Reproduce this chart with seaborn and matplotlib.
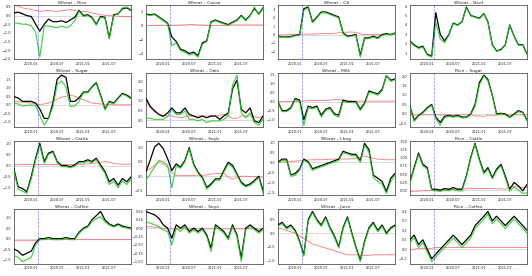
import numpy as np
import pandas as pd
import matplotlib
matplotlib.use("Agg")
import matplotlib.pyplot as plt
import matplotlib.dates as mdates
import seaborn as sns

# ---------------------------------------------------------------------------
# DATA (monthly readings, 2019-09 .. 2021-12)
# ---------------------------------------------------------------------------
dates = pd.date_range("2019-09-01", periods=28, freq="MS")
shock_date = pd.Timestamp("2020-02-15")

titles = ["Wheat – Rice", "Wheat – Cocoa", "Wheat – Oil", "Wheat – Beef",
          "Wheat – Sugar", "Wheat – Oats", "Wheat – Milk", "Rice – Sugar",
          "Wheat – Cattle", "Wheat – Soyb", "Wheat – Lhog", "Rice – Cattle",
          "Wheat – Coffee", "Wheat – Soyo", "Wheat – Juice", "Rice – Coffee"]

rice_b = [0.15, 0.2, 0.1, 0.0, -0.05, -0.5, -0.9, -0.5, -0.2, -0.35, -0.35, -0.3, -0.4, -0.25,
          -0.1, 0.3, 0.0, 0.05, -0.1, -0.5, -0.05, -0.1, -1.3, 0.05, 0.1, 0.4, 0.45, 0.3]
rice_g = [-0.4, -0.45, -0.5, -0.5, -0.6, -0.95, -2.4, -0.6, -0.6, -0.65, -0.7, -0.6, -0.7, -0.6,
          -0.3, 0.25, -0.05, 0.0, -0.15, -0.55, -0.1, -0.15, -1.35, 0.0, 0.1, 0.45, 0.5, 0.35]
rice_r = [0.62, 0.55, 0.45, 0.4, 0.35, 0.3, 0.25, 0.28, 0.3, 0.25, 0.25, 0.28, 0.3, 0.35,
          0.3, 0.25, 0.25, 0.22, 0.15, 0.1, 0.05, 0.02, 0.0, -0.02, -0.03, -0.05, -0.05, -0.05]

cocoa_b = [1.6, 1.5, 1.6, 1.2, 0.75, 0.3, -1.65, -2.3, -3.4, -3.6, -4.0, -3.8, -4.3, -2.5,
           -2.2, 0.5, 0.75, 0.5, 0.3, 0.1, 0.45, 0.75, 1.4, 0.75, 1.4, 2.4, 1.6, 2.5]
cocoa_g = [1.5, 1.4, 1.5, 1.1, 0.65, 0.2, -2.9, -2.5, -3.6, -3.8, -4.2, -4.0, -4.5, -2.7,
           -2.3, 0.4, 0.65, 0.4, 0.2, 0.0, 0.35, 0.65, 1.3, 0.65, 1.3, 2.6, 1.5, 2.4]
cocoa_r = [-0.05, -0.05, 0.0, 0.0, 0.0, 0.0, 0.0, 0.0, 0.05, 0.05, 0.15, 0.1, 0.05, 0.05,
           0.0, 0.0, 0.0, 0.0, 0.0, 0.05, 0.05, 0.05, 0.05, 0.05, 0.05, 0.05, 0.05, 0.05]

oil_b = [-0.2, -0.3, -0.3, -0.25, -0.1, 0.0, 3.1, 3.3, 1.5, 2.1, 2.7, 2.7, 2.5, 2.3,
         2.1, 0.2, -0.2, -0.1, 0.0, -2.5, -0.4, -0.4, -0.2, -0.4, 0.0, 0.1, 0.0, 0.2]
oil_g = [-0.25, -0.35, -0.35, -0.3, -0.15, -0.05, 2.9, 3.2, 1.4, 2.0, 2.6, 2.6, 2.4, 2.2,
         2.0, 0.1, -0.3, -0.2, -0.1, -2.7, -0.5, -0.5, -0.3, -0.5, -0.1, 0.0, -0.05, 0.15]
oil_r = [-0.05, -0.05, -0.05, 0.0, 0.0, 0.0, 0.05, 0.05, 0.05, 0.08, 0.1, 0.1, 0.12, 0.15,
         0.2, 0.25, 0.28, 0.3, 0.25, 0.05, 0.0, 0.0, 0.0, 0.0, 0.0, 0.0, 0.0, 0.0]

beef_b = [2.3, 1.9, 1.6, 1.75, 0.9, 0.7, 5.3, 3.0, 2.3, 3.0, 4.2, 4.0, 4.35, 5.9,
          5.0, 4.85, 4.7, 5.2, 4.35, 1.9, 1.25, 1.4, 1.9, 4.0, 2.8, 1.9, 1.9, 0.9]
beef_g = [2.2, 1.8, 1.5, 1.65, 0.8, 0.6, 4.3, 2.5, 2.1, 2.9, 4.15, 3.95, 4.3, 5.85,
          4.95, 4.8, 4.65, 5.15, 4.3, 1.85, 1.2, 1.35, 1.85, 3.95, 2.75, 1.85, 1.85, 0.85]
beef_r = [0.1, 0.1, 0.1, 0.1, 0.1, 0.1, 0.35, 0.15, 0.3, 0.1, 0.1, 0.08, 0.08, 0.08,
          0.08, 0.08, 0.08, 0.08, 0.08, 0.08, 0.08, 0.08, 0.08, 0.08, 0.08, 0.08, 0.08, 0.08]

sugar_b = [0.48, 0.4, 0.2, 0.2, 0.2, 0.1, -0.25, -0.8, -0.8, 0.1, 1.5, 1.74, 1.6, 0.2,
           0.2, 0.4, 0.75, 0.75, 1.05, 1.3, 0.57, -0.25, 0.2, 0.1, 0.4, 0.67, 0.57, 0.4]
sugar_g = [0.1, 0.05, -0.07, -0.05, 0.0, -0.05, -0.63, -1.2, -0.8, -0.1, 1.2, 1.4, 1.04, -0.1,
           -0.07, 0.2, 0.7, 0.7, 1.0, 1.25, 0.5, -0.3, 0.15, 0.05, 0.35, 0.62, 0.5, 0.35]
sugar_r = [0.2, 0.18, 0.15, 0.12, 0.1, 0.05, 0.02, 0.05, 0.1, 0.2, 0.33, 0.45, 0.5, 0.57,
           0.5, 0.4, 0.3, 0.2, 0.1, 0.08, 0.05, 0.03, 0.02, 0.0, 0.0, 0.0, 0.0, 0.0]

oats_b = [1.13, 0.72, 0.47, 0.3, 0.2, 0.38, 0.63, 0.38, 0.38, 0.63, 0.3, 0.22, 0.13, 0.22,
          0.13, 0.22, 0.22, 0.05, 0.22, 0.38, 1.6, 2.05, 0.55, 0.38, 0.63, -0.03, -0.12, 0.22]
oats_g = [0.13, 0.1, 0.05, 0.05, 0.05, 0.2, 0.55, 0.3, 0.3, 0.47, 0.05, 0.05, -0.03, 0.05,
          -0.12, -0.03, -0.03, -0.03, 0.05, 0.22, 1.8, 2.3, 0.38, 0.13, 0.38, -0.12, -0.25, 0.05]
oats_r = [1.05, 0.63, 0.55, 0.3, 0.25, 0.22, 0.22, 0.18, 0.13, 0.18, 0.22, 0.22, 0.22, 0.22,
          0.22, 0.22, 0.22, 0.25, 0.3, 0.22, 0.1, 0.1, 0.22, 0.22, 0.22, 0.18, 0.13, 0.22]

milk_b = [0.0, -0.5, -0.5, -0.33, 0.17, 0.08, -1.0, -0.25, -0.33, -0.25, -0.75, -0.42, -0.33, -0.67,
          -0.75, 0.08, 0.0, 0.0, 0.0, -0.42, -0.08, 0.58, 0.5, 0.42, 0.67, 1.42, 1.17, 1.25]
milk_g = [-0.05, -0.55, -0.55, -0.4, 0.1, 0.0, -1.3, -0.35, -0.4, -0.32, -0.85, -0.5, -0.4, -0.75,
          -0.85, 0.0, -0.05, -0.05, -0.05, -0.5, -0.15, 0.5, 0.45, 0.35, 0.6, 1.45, 1.1, 1.2]
milk_r = [0.0, 0.0, 0.0, 0.0, 0.0, 0.02, 0.03, 0.05, 0.05, 0.05, 0.05, 0.06, 0.08, 0.1,
          0.12, 0.08, 0.05, 0.03, 0.02, 0.02, 0.02, 0.02, 0.02, 0.02, 0.02, 0.02, 0.02, 0.02]

rsugar_b = [0.42, -0.33, -0.08, 0.08, 0.33, 0.5, -0.17, -0.45, -0.13, -0.08, -0.13, -0.08, -0.17, -0.17,
            0.0, 0.5, 1.67, 2.05, 1.83, 1.0, 0.0, 0.03, 0.0, -0.17, 0.0, 0.17, 0.08, -0.33]
rsugar_g = [0.35, -0.4, -0.12, 0.03, 0.28, 0.45, -0.25, -0.6, -0.2, -0.12, -0.18, -0.12, -0.22, -0.2,
            -0.05, 0.4, 1.55, 2.0, 1.75, 0.95, -0.05, 0.0, -0.05, -0.2, -0.05, 0.12, 0.05, -0.4]
rsugar_r = [-0.05, -0.05, -0.05, -0.05, -0.05, -0.05, -0.05, -0.05, -0.05, -0.05, -0.05, -0.05, -0.05, -0.05,
            -0.05, -0.12, -0.1, -0.15, -0.05, -0.1, -0.05, -0.05, -0.05, -0.05, -0.05, -0.05, -0.05, -0.05]

cattle_b = [-0.12, -0.95, -1.03, -1.18, -0.5, 0.33, 1.0, 0.18, 0.56, 0.64, 0.18, 0.0, 0.0, -0.05,
            0.03, 0.18, 0.18, 0.26, 0.18, 0.33, 0.03, -0.27, -0.73, -0.58, -0.88, -0.58, -0.73, -0.5]
cattle_g = [-0.2, -1.05, -1.15, -1.25, -0.6, 0.25, 0.9, 0.1, 0.5, 0.58, 0.12, -0.05, -0.05, -0.1,
            -0.02, 0.12, 0.12, 0.2, 0.12, 0.27, -0.05, -0.35, -0.85, -0.7, -1.0, -0.7, -0.85, -0.6]
cattle_r = [0.06, 0.03, 0.05, 0.05, 0.05, 0.05, 0.05, 0.05, 0.05, 0.05, 0.04, 0.04, 0.04, 0.05,
            0.05, 0.06, 0.06, 0.08, 0.1, 0.12, 0.15, 0.18, 0.16, 0.1, 0.07, 0.06, 0.06, 0.06]

soyb_b = [0.14, 0.55, 1.02, 1.15, 0.96, 0.61, 0.2, 0.43, 0.32, 0.55, 1.0, 0.43, 0.14, -0.04,
          -0.39, -0.27, -0.09, -0.09, 0.2, 0.49, 0.38, 0.08, -0.21, -0.33, -0.27, -0.15, 0.0, -0.5]
soyb_g = [-0.15, 0.08, 0.32, 0.55, 0.5, 0.38, -0.4, 0.35, 0.28, 0.5, 0.95, 0.38, 0.1, -0.08,
          -0.45, -0.32, -0.14, -0.14, 0.15, 0.42, 0.32, 0.03, -0.26, -0.38, -0.32, -0.2, -0.05, -0.6]
soyb_r = [0.2, 0.26, 0.38, 0.49, 0.43, 0.32, 0.14, 0.02, 0.02, 0.02, 0.02, 0.02, 0.02, 0.03,
          0.05, 0.08, 0.09, 0.1, 0.1, -0.04, -0.1, -0.04, 0.0, 0.0, -0.01, -0.01, -0.02, -0.04]

lhog_b = [0.0, 0.16, 0.16, -0.63, -0.55, -0.32, 0.16, 0.03, -0.32, -0.24, -0.16, -0.08, 0.0, 0.08,
          0.16, 0.55, 0.47, 0.4, 0.4, 0.08, 0.95, 0.63, -0.63, -0.79, -0.95, -1.46, -0.79, -0.55]
lhog_g = [-0.05, 0.1, 0.1, -0.7, -0.65, -0.4, 0.1, -0.02, -0.4, -0.3, -0.22, -0.14, -0.06, 0.02,
          0.1, 0.48, 0.42, 0.33, 0.33, 0.0, 0.85, 0.5, -0.75, -0.95, -1.1, -1.55, -0.95, -0.65]
lhog_r = [0.0, 0.02, 0.03, 0.05, 0.06, 0.08, 0.1, 0.12, 0.13, 0.13, 0.13, 0.14, 0.16, 0.16,
          0.17, 0.16, 0.17, 0.18, 0.19, 0.25, 0.32, 0.25, 0.2, 0.16, 0.14, 0.13, 0.13, 0.13]

rcattle_b = [0.24, 0.7, 1.15, 0.8, 0.7, 0.03, 0.03, 0.0, 0.05, 0.03, 0.08, 0.03, 0.03, 0.44,
             1.02, 1.45, 0.95, 0.55, 0.7, 0.39, 0.65, 0.8, 0.44, 0.03, 0.24, 0.13, -0.02, 0.18]
rcattle_g = [0.2, 0.65, 1.1, 0.75, 0.65, 0.0, -0.02, -0.04, 0.0, -0.02, 0.03, -0.02, -0.02, 0.4,
             0.98, 1.42, 0.9, 0.5, 0.65, 0.35, 0.6, 0.75, 0.38, -0.03, 0.1, 0.0, -0.1, -0.08]
rcattle_r = [-0.05, -0.03, -0.03, -0.02, -0.02, 0.0, 0.0, 0.0, 0.02, 0.02, 0.02, 0.03, 0.03, 0.04,
             0.05, 0.05, 0.05, 0.05, 0.05, 0.05, 0.04, 0.04, 0.03, 0.08, 0.13, 0.1, 0.08, 0.08]

coffee_b = [-0.5, -0.6, -0.8, -0.7, -0.6, -0.2, 0.0, 0.0, 0.05, 0.0, 0.0, 0.0, 0.05, 0.0,
            0.0, 0.3, 0.5, 0.6, 0.9, 1.1, 1.3, 0.9, 0.7, 0.6, 0.7, 0.6, 0.55, 0.5]
coffee_g = [-0.8, -0.9, -1.1, -1.0, -0.9, -0.3, -0.05, -0.05, 0.0, -0.05, -0.05, -0.05, 0.0, -0.05,
            -0.05, 0.25, 0.45, 0.55, 0.8, 0.95, 1.05, 0.8, 0.65, 0.55, 0.65, 0.55, 0.5, 0.45]
coffee_r = [-0.1, -0.1, -0.1, -0.1, -0.1, -0.08, -0.05, -0.05, -0.05, -0.05, -0.05, -0.05, -0.05, -0.05,
            -0.05, -0.05, -0.05, -0.05, -0.05, -0.05, -0.05, -0.05, -0.05, -0.05, -0.05, -0.05, -0.05, -0.05]

soyo_b = [0.5, 0.45, 0.4, 0.3, 0.1, 0.0, -0.3, 0.1, 0.0, 0.1, -0.1, 0.0, -0.1, 0.0,
          -0.2, -0.6, 0.1, 0.0, -0.1, -0.3, 0.1, -0.2, -0.9, 0.0, 0.1, 0.0, -0.1, 0.0]
soyo_g = [0.2, 0.15, 0.1, 0.05, -0.05, -0.1, -0.5, 0.0, -0.1, 0.05, -0.15, -0.05, -0.15, -0.05,
          -0.25, -0.7, 0.05, -0.05, -0.15, -0.35, 0.05, -0.25, -1.0, -0.05, 0.05, -0.05, -0.15, -0.05]
soyo_r = [0.05, 0.05, 0.03, 0.02, 0.0, -0.02, -0.02, -0.02, -0.02, -0.02, -0.02, -0.02, -0.02, -0.02,
          -0.02, -0.02, -0.02, -0.02, -0.02, -0.02, -0.02, -0.02, -0.02, -0.02, -0.02, -0.02, -0.02, -0.02]

juice_b = [0.3, 0.4, 0.2, 0.3, 0.1, -0.3, -0.8, 0.5, 0.8, 0.5, 0.3, 0.6, 0.2, -0.1,
           -0.5, 0.2, 0.6, 0.0, -0.5, -1.0, -0.3, 0.2, 0.4, 0.1, 0.3, 0.0, 0.2, 0.3]
juice_g = [0.25, 0.35, 0.15, 0.25, 0.05, -0.35, -0.85, 0.45, 0.75, 0.45, 0.25, 0.55, 0.15, -0.15,
           -0.55, 0.15, 0.55, -0.05, -0.55, -1.05, -0.35, 0.15, 0.35, 0.05, 0.25, -0.05, 0.15, 0.25]
juice_r = [0.2, 0.15, 0.1, 0.05, 0.0, -0.1, -0.2, -0.3, -0.4, -0.45, -0.5, -0.55, -0.6, -0.65,
           -0.7, -0.75, -0.8, -0.8, -0.8, -0.82, -0.82, -0.82, -0.8, -0.8, -0.8, -0.8, -0.8, -0.8]

rcoffee_b = [0.1, 0.15, 0.05, 0.1, 0.0, -0.1, -0.05, 0.0, 0.05, 0.1, 0.15, 0.1, 0.05, 0.1,
             0.15, 0.25, 0.3, 0.35, 0.4, 0.3, 0.35, 0.3, 0.25, 0.3, 0.35, 0.3, 0.25, 0.2]
rcoffee_g = [0.07, 0.12, 0.02, 0.07, -0.03, -0.13, -0.08, -0.03, 0.02, 0.07, 0.12, 0.07, 0.02, 0.07,
             0.12, 0.22, 0.27, 0.32, 0.37, 0.27, 0.32, 0.27, 0.22, 0.27, 0.32, 0.27, 0.22, 0.17]
rcoffee_r = [0.0, 0.0, 0.01, 0.01, 0.01, 0.01, 0.02, 0.02, 0.02, 0.02, 0.02, 0.02, 0.02, 0.02,
             0.02, 0.02, 0.02, 0.02, 0.02, 0.02, 0.02, 0.02, 0.02, 0.02, 0.02, 0.02, 0.02, 0.02]

panels = [
    (rice_b, rice_g, rice_r), (cocoa_b, cocoa_g, cocoa_r), (oil_b, oil_g, oil_r), (beef_b, beef_g, beef_r),
    (sugar_b, sugar_g, sugar_r), (oats_b, oats_g, oats_r), (milk_b, milk_g, milk_r), (rsugar_b, rsugar_g, rsugar_r),
    (cattle_b, cattle_g, cattle_r), (soyb_b, soyb_g, soyb_r), (lhog_b, lhog_g, lhog_r), (rcattle_b, rcattle_g, rcattle_r),
    (coffee_b, coffee_g, coffee_r), (soyo_b, soyo_g, soyo_r), (juice_b, juice_g, juice_r), (rcoffee_b, rcoffee_g, rcoffee_r),
]

# ---------------------------------------------------------------------------
# PLOT
# ---------------------------------------------------------------------------
sns.set_style("white")
plt.rcParams["font.family"] = ["DejaVu Sans"]

fig, axes = plt.subplots(4, 4, figsize=(5.32, 2.76), dpi=100)
fig.subplots_adjust(left=0.026, right=0.99, top=0.982, bottom=0.045, wspace=0.13, hspace=0.26)

for ax, title, (black, green, red) in zip(axes.flat, titles, panels):
    ax.axhline(0, color="#cccccc", lw=0.5, zorder=1)
    sns.lineplot(x=dates, y=black, ax=ax, color="black", lw=0.9, zorder=3)
    sns.lineplot(x=dates, y=green, ax=ax, color="#22cc22", lw=0.8, alpha=0.9, zorder=4)
    sns.lineplot(x=dates, y=red, ax=ax, color="#ff5555", lw=0.6, alpha=0.8, zorder=2)
    ax.axvline(shock_date, color="blue", ls="--", lw=0.5, alpha=0.5, zorder=5)

    lo = min(min(black), min(green))
    hi = max(max(black), max(green))
    pad = (hi - lo) * 0.04
    ax.set_ylim(lo - pad, hi + pad)
    ax.set_xlim(pd.Timestamp("2019-09-01"), pd.Timestamp("2021-11-28"))

    ax.xaxis.set_major_locator(mdates.MonthLocator(bymonth=[1, 7]))
    ax.xaxis.set_major_formatter(mdates.DateFormatter("%Y-%m"))
    ax.tick_params(labelsize=2.5, length=1.2, width=0.4, pad=0.6)
    ax.set_title(title, fontsize=3.2, pad=1.0)
    ax.set_xlabel("")
    ax.set_ylabel("")
    for sp in ax.spines.values():
        sp.set_visible(True)
        sp.set_linewidth(0.5)
        sp.set_color("#333333")

fig.savefig("out.png", dpi=100)
